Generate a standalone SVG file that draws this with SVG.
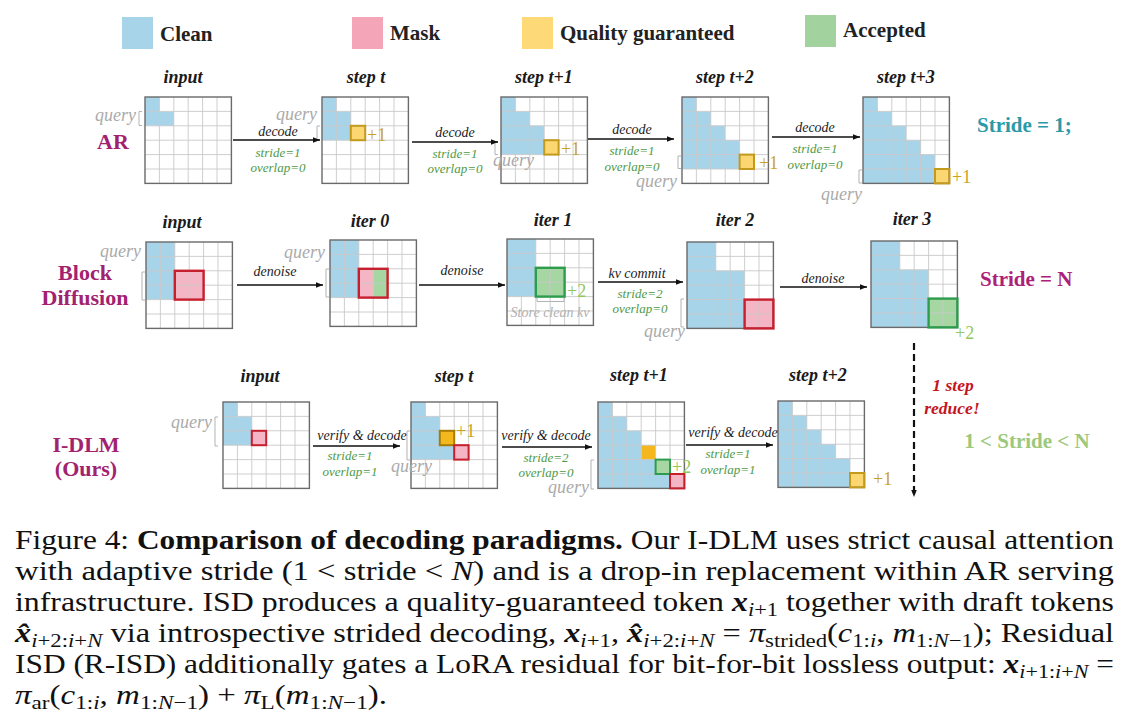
<svg xmlns="http://www.w3.org/2000/svg" xmlns:xlink="http://www.w3.org/1999/xlink" width="1130" height="724" viewBox="0 0 1130 724">
<style>
.ttl{font:italic bold 18px "Liberation Serif",serif;fill:#1a1a1a;text-anchor:middle}
.op{font:italic 14px "Liberation Serif",serif;fill:#222;text-anchor:middle}
.par{font:italic 13px "Liberation Serif",serif;fill:#4e9a46;text-anchor:middle}
.q{font:italic 18px "Liberation Serif",serif;fill:#aaaaaa}
.qe{text-anchor:end}
.row{font:bold 22px "Liberation Serif",serif;fill:#a2226f;text-anchor:middle}
.p1{font:18px "Liberation Serif",serif;fill:#c9a31f}
.p2{font:18px "Liberation Serif",serif;fill:#92c75a}
.leg{font:bold 21px "Liberation Serif",serif;fill:#222}
.cap{font:27px "Liberation Serif",serif;fill:#111}
.sub{font-size:19px}
.bi{font-weight:bold;font-style:italic}
.it{font-style:italic}
.bl{fill:#a8d4ea}
.pk{fill:#f4b6c4}
.yl{fill:#fcd670}
.or{fill:#f4b81e}
.gr{fill:#a6d6a2}
.rb{fill:none;stroke:#c61f2d;stroke-width:2.4}
.gb{fill:none;stroke:#2e9c4d;stroke-width:2.4}
.yb{fill:none;stroke:#c29a1c;stroke-width:2}
.br{fill:none;stroke:#b3b3b3;stroke-width:1}
.bg{fill:#fff}
.ar{fill:none;stroke:#111;stroke-width:1.3;marker-end:url(#ah)}
.dash{fill:none;stroke:#111;stroke-width:2.2;stroke-dasharray:7 4;marker-end:url(#ah)}
</style>
<defs>
<marker id="ah" viewBox="0 0 10 10" refX="10" refY="5" markerWidth="8" markerHeight="7" markerUnits="userSpaceOnUse" orient="auto"><path d="M0 1L10 5L0 9Z" fill="#111"/></marker>
<g id="gl">
<path d="M14.4 0V86.4M28.8 0V86.4M43.2 0V86.4M57.6 0V86.4M72 0V86.4M0 14.4H86.4M0 28.8H86.4M0 43.2H86.4M0 57.6H86.4M0 72H86.4" stroke="#c8c8c8" stroke-width="0.9" fill="none"/>
<rect width="86.4" height="86.4" fill="none" stroke="#6a6a6a" stroke-width="1.4"/>
</g>
</defs>
<rect width="1130" height="724" fill="#fff"/>

<g id="legend">
<rect x="122" y="17" width="31" height="32" class="bl"/><text x="160" y="41" class="leg">Clean</text>
<rect x="352" y="17" width="31" height="32" fill="#f4a6b8"/><text x="390" y="40" class="leg">Mask</text>
<rect x="522" y="17" width="31" height="32" fill="#fdd977"/><text x="560" y="40" class="leg">Quality guaranteed</text>
<rect x="805" y="15" width="31" height="32" fill="#a2d39e"/><text x="843" y="37" class="leg">Accepted</text>
</g>

<g id="row-labels">
<text x="113" y="149" class="row">AR</text>
<text x="85" y="280" class="row">Block</text>
<text x="85" y="305" class="row">Diffusion</text>
<text x="86" y="452" class="row">I-DLM</text>
<text x="86" y="476" class="row">(Ours)</text>
<text x="977" y="132" style="font:bold 21px 'Liberation Serif',serif;fill:#2a9aa8">Stride = 1;</text>
<text x="980" y="286" style="font:bold 21px 'Liberation Serif',serif;fill:#ad2178">Stride = N</text>
<text x="1027" y="448" style="font:bold 21px 'Liberation Serif',serif;fill:#9bc87a;text-anchor:middle">1 &lt; Stride &lt; N</text>
<text x="953" y="391" style="font:italic bold 17.5px 'Liberation Serif',serif;fill:#c4161c;text-anchor:middle">1 step</text>
<text x="952" y="414" style="font:italic bold 17.5px 'Liberation Serif',serif;fill:#c4161c;text-anchor:middle">reduce!</text>
</g>

<!-- AR row -->
<g id="ar-input">
<text x="183" y="83" class="ttl">input</text>
<g transform="translate(145,97)"><rect class="bg" width="86.4" height="86.4"/><path class="bl" d="M0 0H14.4V14.4H28.8V28.8H0Z"/><use href="#gl"/></g>
<text x="136" y="121" class="q qe">query</text><path class="br" d="M142 111.5H139V125.5H142"/>
</g>
<g id="ar-step-t">
<text x="366" y="83" class="ttl">step t</text>
<g transform="translate(322,97)"><rect class="bg" width="86.4" height="86.4"/><path class="bl" d="M0 0H14.4V14.4H28.8V43.2H0Z"/><rect class="yl" x="28.8" y="28.8" width="14.4" height="14.4"/><use href="#gl"/><rect class="yb" x="28.8" y="28.8" width="14.4" height="14.4"/></g>
<text x="367" y="141" class="p1">+1</text>
<text x="317" y="120" class="q qe">query</text><path class="br" d="M320 126H317V140H320"/>
</g>
<g id="ar-step-t1">
<text x="544" y="83" class="ttl">step t+1</text>
<g transform="translate(501,97)"><rect class="bg" width="86.4" height="86.4"/><path class="bl" d="M0 0H14.4V14.4H28.8V28.8H43.2V57.6H0Z"/><rect class="yl" x="43.2" y="43.2" width="14.4" height="14.4"/><use href="#gl"/><rect class="yb" x="43.2" y="43.2" width="14.4" height="14.4"/></g>
<text x="561" y="155" class="p1">+1</text>
<text x="493" y="166" class="q">query</text><path class="br" d="M498 142H495V154.5H498"/>
</g>
<g id="ar-step-t2">
<text x="725" y="83" class="ttl">step t+2</text>
<g transform="translate(682,97)"><rect class="bg" width="86.4" height="86.4"/><path class="bl" d="M0 0H14.4V14.4H28.8V28.8H43.2V43.2H57.6V72H0Z"/><rect class="yl" x="57.6" y="57.6" width="14.4" height="14.4"/><use href="#gl"/><rect class="yb" x="57.6" y="57.6" width="14.4" height="14.4"/></g>
<text x="759" y="169" class="p1">+1</text>
<text x="677" y="187" class="q qe">query</text><path class="br" d="M681 156H678V168.5H681"/>
</g>
<g id="ar-step-t3">
<text x="906" y="83" class="ttl">step t+3</text>
<g transform="translate(863,97)"><rect class="bg" width="86.4" height="86.4"/><path class="bl" d="M0 0H14.4V14.4H28.8V28.8H43.2V43.2H57.6V57.6H72V86.4H0Z"/><rect class="yl" x="72" y="72" width="14.4" height="14.4"/><use href="#gl"/><rect class="yb" x="72" y="72" width="14.4" height="14.4"/></g>
<text x="952" y="183" class="p1">+1</text>
<text x="862" y="200" class="q qe">query</text><path class="br" d="M862 170H859V183H862"/>
</g>

<!-- Block diffusion row -->
<g id="bd-input">
<text x="182" y="228" class="ttl">input</text>
<g transform="translate(146,242)"><rect class="bg" width="86.4" height="86.4"/><rect class="bl" width="28.8" height="57.6"/><rect class="pk" x="28.8" y="28.8" width="28.8" height="28.8"/><use href="#gl"/><rect class="rb" x="28.8" y="28.8" width="28.8" height="28.8"/></g>
<text x="141" y="257" class="q qe">query</text><path class="br" d="M145 272H142V300H145"/>
</g>
<g id="bd-iter0">
<text x="370" y="227" class="ttl">iter 0</text>
<g transform="translate(330,240)"><rect class="bg" width="86.4" height="86.4"/><rect class="bl" width="28.8" height="57.6"/><rect class="pk" x="28.8" y="28.8" width="14.4" height="28.8"/><rect class="gr" x="43.2" y="28.8" width="14.4" height="28.8"/><use href="#gl"/><rect class="rb" x="28.8" y="28.8" width="28.8" height="28.8"/></g>
<text x="325" y="258" class="q qe">query</text><path class="br" d="M329 269H326V297H329"/>
</g>
<g id="bd-iter1">
<text x="553" y="226" class="ttl">iter 1</text>
<g transform="translate(507,239)"><rect class="bg" width="86.4" height="86.4"/><rect class="bl" width="28.8" height="57.6"/><rect class="gr" x="28.8" y="28.8" width="28.8" height="28.8"/><use href="#gl"/><rect class="gb" x="28.8" y="28.8" width="28.8" height="28.8"/></g>
<text x="567" y="297" class="p2">+2</text>
<path class="br" d="M537 298V301.5H564V298"/>
<text x="550" y="317" style="font:italic 14px 'Liberation Serif',serif;fill:#b0b0b0;text-anchor:middle">Store clean kv</text>
</g>
<g id="bd-iter2">
<text x="735" y="226" class="ttl">iter 2</text>
<g transform="translate(687,242)"><rect class="bg" width="86.4" height="86.4"/><path class="bl" d="M0 0H28.8V28.8H57.6V86.4H0Z"/><rect class="pk" x="57.6" y="57.6" width="28.8" height="28.8"/><use href="#gl"/><rect class="rb" x="57.6" y="57.6" width="28.8" height="28.8"/></g>
<text x="685" y="337" class="q qe">query</text><path class="br" d="M684 299H681V327H684"/>
</g>
<g id="bd-iter3">
<text x="912" y="225" class="ttl">iter 3</text>
<g transform="translate(871,241)"><rect class="bg" width="86.4" height="86.4"/><path class="bl" d="M0 0H28.8V28.8H57.6V86.4H0Z"/><rect class="gr" x="57.6" y="57.6" width="28.8" height="28.8"/><use href="#gl"/><rect class="gb" x="57.6" y="57.6" width="28.8" height="28.8"/></g>
<text x="955" y="339" class="p2">+2</text>
</g>

<!-- I-DLM row -->
<g id="idlm-input">
<text x="260" y="382" class="ttl">input</text>
<g transform="translate(223,402)"><rect class="bg" width="86.4" height="86.4"/><path class="bl" d="M0 0H14.4V14.4H28.8V43.2H0Z"/><rect class="pk" x="28.8" y="28.8" width="14.4" height="14.4"/><use href="#gl"/><rect class="rb" x="28.8" y="28.8" width="14.4" height="14.4" style="stroke-width:2"/></g>
<text x="212" y="428" class="q qe">query</text><path class="br" d="M218 417H215V446H218"/>
</g>
<g id="idlm-step-t">
<text x="454" y="382" class="ttl">step t</text>
<g transform="translate(411,402)"><rect class="bg" width="86.4" height="86.4"/><path class="bl" d="M0 0H14.4V14.4H28.8V43.2H43.2V57.6H0Z"/><rect class="or" x="28.8" y="28.8" width="14.4" height="14.4"/><rect class="pk" x="43.2" y="43.2" width="14.4" height="14.4"/><use href="#gl"/><rect class="yb" x="28.8" y="28.8" width="14.4" height="14.4" style="stroke:#a87c00"/><rect class="rb" x="43.2" y="43.2" width="14.4" height="14.4" style="stroke-width:2"/></g>
<text x="456" y="437" class="p1">+1</text>
<text x="391" y="472" class="q">query</text><path class="br" d="M410 431H407V460H410"/>
</g>
<g id="idlm-step-t1">
<text x="639" y="381" class="ttl">step t+1</text>
<g transform="translate(598,402)"><rect class="bg" width="86.4" height="86.4"/><path class="bl" d="M0 0H14.4V14.4H28.8V28.8H43.2V57.6H57.6V72H72V86.4H0Z"/><rect class="or" x="43.2" y="43.2" width="14.4" height="14.4"/><rect class="gr" x="57.6" y="57.6" width="14.4" height="14.4"/><rect class="pk" x="72" y="72" width="14.4" height="14.4"/><use href="#gl"/><rect class="gb" x="57.6" y="57.6" width="14.4" height="14.4" style="stroke-width:2"/><rect class="rb" x="72" y="72" width="14.4" height="14.4" style="stroke-width:2"/></g>
<text x="672" y="473" class="p2">+2</text>
<text x="589" y="493" class="q qe">query</text><path class="br" d="M594 460H591V489H594"/>
</g>
<g id="idlm-step-t2">
<text x="818" y="381" class="ttl">step t+2</text>
<g transform="translate(778,401)"><rect class="bg" width="86.4" height="86.4"/><path class="bl" d="M0 0H14.4V14.4H28.8V28.8H43.2V43.2H57.6V57.6H72V86.4H0Z"/><rect class="yl" x="72" y="72" width="14.4" height="14.4"/><use href="#gl"/><rect class="yb" x="72" y="72" width="14.4" height="14.4"/></g>
<text x="873" y="485" class="p1">+1</text>
</g>

<g id="connectors">
<path class="ar" d="M233 140H320"/>
<path class="ar" d="M412 142H498"/>
<path class="ar" d="M588 139H674"/>
<path class="ar" d="M772 137H860"/>
<path class="ar" d="M237 285H323"/>
<path class="ar" d="M419 285H505"/>
<path class="ar" d="M598 282H683"/>
<path class="ar" d="M780 287H867"/>
<path class="ar" d="M313 446H400"/>
<path class="ar" d="M502 447H592"/>
<path class="ar" d="M686 445H773"/>
<path class="dash" d="M914 343V497"/>
<text x="278" y="136" class="op">decode</text>
<text x="278" y="157" class="par">stride=1</text>
<text x="278" y="172" class="par">overlap=0</text>
<text x="455" y="137" class="op">decode</text>
<text x="455" y="158" class="par">stride=1</text>
<text x="455" y="173" class="par">overlap=0</text>
<text x="632" y="134" class="op">decode</text>
<text x="632" y="155" class="par">stride=1</text>
<text x="632" y="171" class="par">overlap=0</text>
<text x="815" y="132" class="op">decode</text>
<text x="815" y="153" class="par">stride=1</text>
<text x="815" y="169" class="par">overlap=0</text>
<text x="275" y="276" class="op">denoise</text>
<text x="462" y="275" class="op">denoise</text>
<text x="637" y="278" class="op">kv commit</text>
<text x="640" y="298" class="par">stride=2</text>
<text x="640" y="313" class="par">overlap=0</text>
<text x="823" y="283" class="op">denoise</text>
<text x="362" y="440" class="op">verify &amp; decode</text>
<text x="350" y="460" class="par">stride=1</text>
<text x="350" y="476" class="par">overlap=1</text>
<text x="546" y="440" class="op">verify &amp; decode</text>
<text x="546" y="462" class="par">stride=2</text>
<text x="546" y="477" class="par">overlap=0</text>
<text x="733" y="437" class="op">verify &amp; decode</text>
<text x="728" y="458" class="par">stride=1</text>
<text x="728" y="474" class="par">overlap=1</text>
</g>

<g id="caption">
<text x="15" y="549" class="cap" textLength="1099" lengthAdjust="spacingAndGlyphs">Figure 4: <tspan font-weight="bold">Comparison of decoding paradigms.</tspan> Our I-DLM uses strict causal attention</text>
<text x="15" y="580" class="cap" textLength="1099" lengthAdjust="spacingAndGlyphs">with adaptive stride (1 &lt; stride &lt; <tspan class="it">N</tspan>) and is a drop-in replacement within AR serving</text>
<text x="15" y="611" class="cap" textLength="1099" lengthAdjust="spacingAndGlyphs">infrastructure. ISD produces a quality-guaranteed token <tspan class="bi">x</tspan><tspan class="sub" dy="5"><tspan class="it">i</tspan>+1</tspan><tspan dy="-5"> together with draft tokens</tspan></text>
<text x="15" y="642" class="cap" textLength="1099" lengthAdjust="spacingAndGlyphs"><tspan class="bi">x̂</tspan><tspan class="sub" dy="5"><tspan class="it">i</tspan>+2:<tspan class="it">i</tspan>+<tspan class="it">N</tspan></tspan><tspan dy="-5"> via introspective strided decoding, </tspan><tspan class="bi">x</tspan><tspan class="sub" dy="5"><tspan class="it">i</tspan>+1</tspan><tspan dy="-5">, </tspan><tspan class="bi">x̂</tspan><tspan class="sub" dy="5"><tspan class="it">i</tspan>+2:<tspan class="it">i</tspan>+<tspan class="it">N</tspan></tspan><tspan dy="-5"> = </tspan><tspan class="it">π</tspan><tspan class="sub" dy="5">strided</tspan><tspan dy="-5">(</tspan><tspan class="it">c</tspan><tspan class="sub" dy="5">1:<tspan class="it">i</tspan></tspan><tspan dy="-5">, </tspan><tspan class="it">m</tspan><tspan class="sub" dy="5">1:<tspan class="it">N</tspan>−1</tspan><tspan dy="-5">); Residual</tspan></text>
<text x="15" y="673" class="cap" textLength="1099" lengthAdjust="spacingAndGlyphs">ISD (R-ISD) additionally gates a LoRA residual for bit-for-bit lossless output: <tspan class="bi">x</tspan><tspan class="sub" dy="5"><tspan class="it">i</tspan>+1:<tspan class="it">i</tspan>+<tspan class="it">N</tspan></tspan><tspan dy="-5"> =</tspan></text>
<text x="15" y="704" class="cap" textLength="372" lengthAdjust="spacingAndGlyphs"><tspan class="it">π</tspan><tspan class="sub" dy="5">ar</tspan><tspan dy="-5">(</tspan><tspan class="it">c</tspan><tspan class="sub" dy="5">1:<tspan class="it">i</tspan></tspan><tspan dy="-5">, </tspan><tspan class="it">m</tspan><tspan class="sub" dy="5">1:<tspan class="it">N</tspan>−1</tspan><tspan dy="-5">) + </tspan><tspan class="it">π</tspan><tspan class="sub" dy="5">L</tspan><tspan dy="-5">(</tspan><tspan class="it">m</tspan><tspan class="sub" dy="5">1:<tspan class="it">N</tspan>−1</tspan><tspan dy="-5">).</tspan></text>
</g>
</svg>
